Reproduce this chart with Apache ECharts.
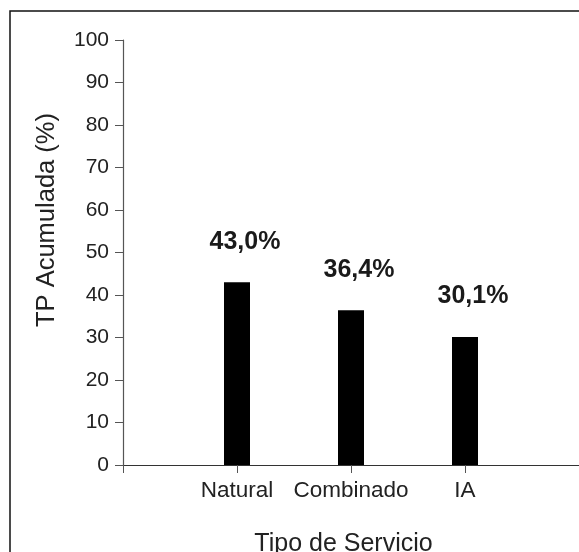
<!DOCTYPE html>
<html>
<head>
<meta charset="utf-8">
<script src="https://cdn.jsdelivr.net/npm/echarts@6/dist/echarts.min.js"></script>
<style>
html,body{margin:0;padding:0;background:#fff;}
#chart{width:579px;height:552px;}
</style>
</head>
<body>
<div id="chart"></div>
<script>
// Data
var categories = ['', 'Natural', 'Combinado', 'IA', ''];
var values = [null, 43.0, 36.4, 30.1, null];
var valueLabels = ['', '43,0%', '36,4%', '30,1%', ''];
var yTicks = [0, 10, 20, 30, 40, 50, 60, 70, 80, 90, 100];
var xTitle = 'Tipo de Servicio';
var yTitle = 'TP Acumulada (%)';

var FONT = '"Liberation Sans", Arial, sans-serif';
var chart = echarts.init(document.getElementById('chart'), null, {renderer: 'canvas'});
chart.setOption({
  backgroundColor: '#fff',
  animation: false,
  graphic: [{
    type: 'rect',
    shape: {x: 10, y: 11, width: 600, height: 600},
    style: {fill: 'none', stroke: '#111', lineWidth: 1.5},
    silent: true,
    z: 0
  }],
  grid: {left: 123, right: 0, top: 40, bottom: 87, containLabel: false, outerBoundsMode: 'none'},
  xAxis: {
    type: 'category',
    data: categories,
    boundaryGap: false,
    name: xTitle,
    nameLocation: 'middle',
    nameGap: 67,
    nameTextStyle: {fontFamily: FONT, fontSize: 25, color: '#222', padding: [0, 15, 0, 0]},
    axisLine: {show: true, lineStyle: {color: '#333', width: 1.2}},
    axisTick: {show: true, length: 8, alignWithLabel: true, interval: 0, lineStyle: {color: '#555', width: 1}},
    axisLabel: {interval: 0, margin: 14, fontFamily: FONT, fontSize: 22.5, color: '#222'},
    splitLine: {show: false}
  },
  yAxis: {
    type: 'value',
    min: yTicks[0],
    max: yTicks[yTicks.length - 1],
    interval: yTicks[1] - yTicks[0],
    name: yTitle,
    nameLocation: 'middle',
    nameGap: 63,
    nameRotate: 90,
    nameTextStyle: {fontFamily: FONT, fontSize: 25.5, color: '#222', padding: [0, 0, 0, 65]},
    axisLine: {show: true, lineStyle: {color: '#555', width: 1.2}},
    axisTick: {show: true, length: 8, lineStyle: {color: '#555', width: 1}},
    axisLabel: {margin: 14, fontFamily: FONT, fontSize: 21, color: '#222'},
    splitLine: {show: false}
  },
  series: [{
    type: 'bar',
    data: values,
    barWidth: 26,
    itemStyle: {color: '#000'},
    label: {
      show: true,
      position: 'top',
      distance: 28,
      offset: [8, 0],
      fontFamily: FONT,
      fontSize: 25,
      fontWeight: 'bold',
      color: '#1a1a1a',
      formatter: function (p) { return valueLabels[p.dataIndex]; }
    }
  }]
});
</script>
</body>
</html>
